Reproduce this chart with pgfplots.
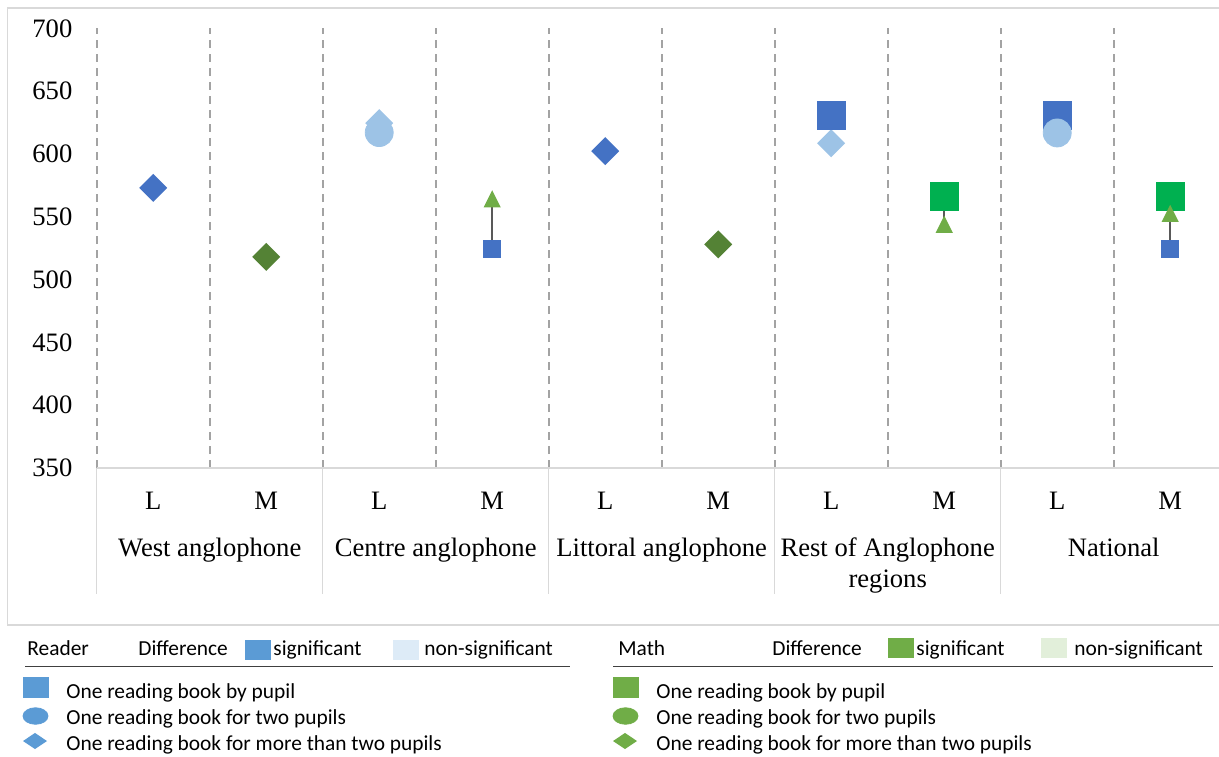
\documentclass[border=0pt]{standalone}
\usepackage{fontspec}
\setmainfont{Liberation Serif}
\newfontfamily\calib{Carlito}
\usepackage{pgfplots}
\pgfplotsset{compat=1.18}
\definecolor{dblue}{HTML}{4472C4}
\definecolor{lblue}{HTML}{9DC3E6}
\definecolor{bgreen}{HTML}{00B050}
\definecolor{dgreen}{HTML}{548235}
\definecolor{mgreen}{HTML}{70AD47}
\definecolor{legblue}{HTML}{5B9BD5}
\definecolor{legblueL}{HTML}{DDEBF7}
\definecolor{leggreenL}{HTML}{E2EFDA}
\definecolor{gridgray}{HTML}{A3A3A3}
\definecolor{linegray}{HTML}{D9D9D9}
\definecolor{conn}{HTML}{595959}
\definecolor{rulegray}{HTML}{404040}

\pgfdeclareplotmark{xdia}{%
  \pgfpathmoveto{\pgfqpoint{0pt}{\pgfplotmarksize}}%
  \pgfpathlineto{\pgfqpoint{\pgfplotmarksize}{0pt}}%
  \pgfpathlineto{\pgfqpoint{0pt}{-\pgfplotmarksize}}%
  \pgfpathlineto{\pgfqpoint{-\pgfplotmarksize}{0pt}}%
  \pgfpathclose\pgfusepathqfill}
\pgfdeclareplotmark{xtri}{%
  \pgfpathmoveto{\pgfqpoint{0pt}{\pgfplotmarksize}}%
  \pgfpathlineto{\pgfqpoint{\pgfplotmarksize}{-\pgfplotmarksize}}%
  \pgfpathlineto{\pgfqpoint{-\pgfplotmarksize}{-\pgfplotmarksize}}%
  \pgfpathclose\pgfusepathqfill}

\newcommand{\axfont}{\fontsize{13.3}{15.5}\selectfont}
\newcommand{\legfont}{\calib\fontsize{10.7}{12.8}\selectfont}

\begin{document}
\begin{tikzpicture}
% ---------- overlay axis in pixel coordinates (frame + legend) ----------
\begin{axis}[hide axis, scale only axis, width=609.5pt, height=378pt,
  at={(0pt,0pt)}, anchor=south west,
  xmin=0, xmax=1219, ymin=0, ymax=756, y dir=reverse, clip=false]
  \draw[linegray, line width=0.75pt] (axis cs:7.3,8) rectangle (axis cs:1240,625);
  % header texts
  \node[font=\legfont, anchor=base west, inner sep=0pt] at (axis cs:27,655) {Reader};
  \node[font=\legfont, anchor=base west, inner sep=0pt] at (axis cs:138,655) {Difference};
  \node[font=\legfont, anchor=base west, inner sep=0pt] at (axis cs:273,655) {significant};
  \node[font=\legfont, anchor=base west, inner sep=0pt] at (axis cs:424,655) {non-significant};
  \node[font=\legfont, anchor=base west, inner sep=0pt] at (axis cs:618,655) {Math};
  \node[font=\legfont, anchor=base west, inner sep=0pt] at (axis cs:772,655) {Difference};
  \node[font=\legfont, anchor=base west, inner sep=0pt] at (axis cs:916,655) {significant};
  \node[font=\legfont, anchor=base west, inner sep=0pt] at (axis cs:1074,655) {non-significant};
  \draw[rulegray, line width=0.75pt] (axis cs:25,666.5) -- (axis cs:570,666.5);
  \draw[rulegray, line width=0.75pt] (axis cs:613,666.5) -- (axis cs:1213,666.5);
  % swatches
  \addplot[only marks, mark=square*, mark size=6.25pt, color=legblue, mark options={yscale=0.76}] coordinates {(257.5,649.5)};
  \addplot[only marks, mark=square*, mark size=6.25pt, color=legblueL, mark options={yscale=0.76}] coordinates {(405.5,649.5)};
  \addplot[only marks, mark=square*, mark size=6.25pt, color=mgreen, mark options={yscale=0.76}] coordinates {(900.5,648)};
  \addplot[only marks, mark=square*, mark size=6.25pt, color=leggreenL, mark options={yscale=0.76}] coordinates {(1053.5,647.5)};
  % entry markers
  \addplot[only marks, mark=square*, mark size=6.25pt, color=legblue, mark options={yscale=0.8}] coordinates {(35.5,687)};
  \addplot[only marks, mark=*, mark size=6.25pt, color=legblue, mark options={yscale=0.66}] coordinates {(35.5,716)};
  \addplot[only marks, mark=xdia, mark size=6pt, color=legblue, mark options={yscale=0.67}] coordinates {(35,741)};
  \addplot[only marks, mark=square*, mark size=6.25pt, color=mgreen, mark options={yscale=0.8}] coordinates {(625.5,687)};
  \addplot[only marks, mark=*, mark size=6.25pt, color=mgreen, mark options={yscale=0.66}] coordinates {(625.5,716)};
  \addplot[only marks, mark=xdia, mark size=6pt, color=mgreen, mark options={yscale=0.67}] coordinates {(625,741)};
  % entry texts
  \node[font=\legfont, anchor=base west, inner sep=0pt] at (axis cs:66,698.5) {One reading book by pupil};
  \node[font=\legfont, anchor=base west, inner sep=0pt] at (axis cs:66,724.2) {One reading book for two pupils};
  \node[font=\legfont, anchor=base west, inner sep=0pt] at (axis cs:66,750) {One reading book for more than two pupils};
  \node[font=\legfont, anchor=base west, inner sep=0pt] at (axis cs:656,698.5) {One reading book by pupil};
  \node[font=\legfont, anchor=base west, inner sep=0pt] at (axis cs:656,724.2) {One reading book for two pupils};
  \node[font=\legfont, anchor=base west, inner sep=0pt] at (axis cs:656,750) {One reading book for more than two pupils};
\end{axis}

% ---------- data axis ----------
\begin{axis}[scale only axis, width=565pt, height=219.85pt,
  at={(48.35pt,144pt)}, anchor=south west,
  xmin=-0.5, xmax=9.5, ymin=350, ymax=700,
  ytick={350,400,...,700},
  xtick={0,...,9}, xticklabels={L,M,L,M,L,M,L,M,L,M},
  minor xtick={-0.5,0.5,...,8.5},
  xminorgrids,
  minor grid style={gridgray, line width=1.1pt, dash pattern=on 4.2pt off 2.8pt},
  major tick length=0pt, minor tick length=0pt,
  axis x line*=bottom, axis y line*=left,
  x axis line style={linegray, line width=0.75pt, -},
  y axis line style={draw=none},
  tick label style={font=\axfont},
  yticklabel style={anchor=east, inner sep=0pt, xshift=-12pt},
  xticklabel style={anchor=base, inner sep=0pt, yshift=-20.65pt},
  /pgf/number format/assume math mode=true,
  clip=false]
  % connectors
  \addplot[conn, line width=1pt, no marks] coordinates {(3,524.5) (3,564.3)};
  \addplot[conn, line width=1pt, no marks] coordinates {(7,544) (7,566.4)};
  \addplot[conn, line width=1pt, no marks] coordinates {(9,524.5) (9,552.7)};
  % diamonds
  \addplot[only marks, mark=xdia, mark size=7pt, color=dblue] coordinates {(0,573) (4,602.3)};
  \addplot[only marks, mark=xdia, mark size=7pt, color=lblue] coordinates {(2,624.5) (6,608.5)};
  \addplot[only marks, mark=xdia, mark size=7pt, color=dgreen] coordinates {(1,518) (5,528)};
  % big squares
  \addplot[only marks, mark=square*, mark size=7pt, color=dblue] coordinates {(6,630.5) (8,630.5)};
  \addplot[only marks, mark=square*, mark size=7pt, color=bgreen] coordinates {(7,566.4) (9,566.4)};
  % circles
  \addplot[only marks, mark=*, mark size=7pt, color=lblue] coordinates {(2,617) (8,616.7)};
  % triangles
  \addplot[only marks, mark=xtri, mark size=4.3pt, color=mgreen] coordinates {(3,564.3) (7,544) (9,552.7)};
  % small squares
  \addplot[only marks, mark=square*, mark size=4.3pt, color=dblue] coordinates {(3,524.5) (9,524.5)};
  % separators below the axis
  \draw[linegray, line width=0.75pt] (axis cs:-0.5,350) -- ++(0pt,-63pt);
  \draw[linegray, line width=0.75pt] (axis cs:1.5,350) -- ++(0pt,-63pt);
  \draw[linegray, line width=0.75pt] (axis cs:3.5,350) -- ++(0pt,-63pt);
  \draw[linegray, line width=0.75pt] (axis cs:5.5,350) -- ++(0pt,-63pt);
  \draw[linegray, line width=0.75pt] (axis cs:7.5,350) -- ++(0pt,-63pt);
  % category names
  \node[font=\axfont, anchor=base, inner sep=0pt, yshift=-44.25pt] at (axis cs:0.5,350) {West anglophone};
  \node[font=\axfont, anchor=base, inner sep=0pt, yshift=-44.25pt] at (axis cs:2.5,350) {Centre anglophone};
  \node[font=\axfont, anchor=base, inner sep=0pt, yshift=-44.25pt] at (axis cs:4.5,350) {Littoral anglophone};
  \node[font=\axfont, anchor=base, inner sep=0pt, yshift=-44.25pt] at (axis cs:6.5,350) {Rest of Anglophone};
  \node[font=\axfont, anchor=base, inner sep=0pt, yshift=-59.75pt] at (axis cs:6.5,350) {regions};
  \node[font=\axfont, anchor=base, inner sep=0pt, yshift=-44.25pt] at (axis cs:8.5,350) {National};
\end{axis}
\pgfresetboundingbox
\path[use as bounding box] (0pt,0pt) rectangle (609.5pt,378pt);
\end{tikzpicture}
\end{document}
